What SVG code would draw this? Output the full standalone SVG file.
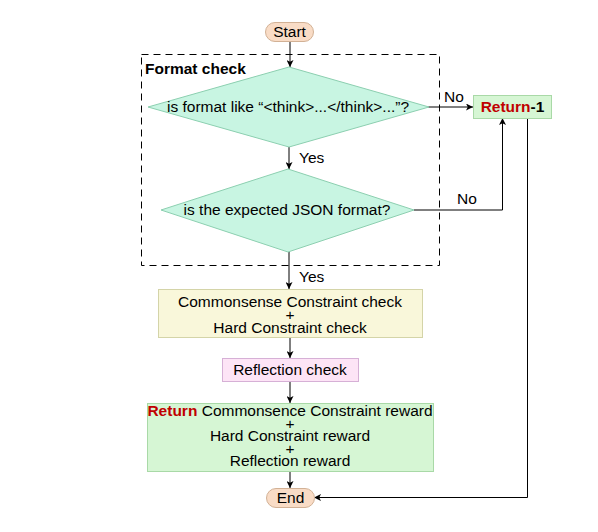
<svg xmlns="http://www.w3.org/2000/svg" width="598" height="532" viewBox="0 0 598 532">
<defs>
<marker id="arr" viewBox="0 0 10 10" refX="10" refY="5" markerWidth="7" markerHeight="7" orient="auto" markerUnits="userSpaceOnUse">
<path d="M0,0 L10,5 L0,10 L2.5,5 z" fill="#000"/>
</marker>
<style>
text{font-family:"Liberation Sans",Arial,sans-serif;font-size:15.5px;fill:#000}
.c{text-anchor:middle}
.red{fill:#c00000}
.b{font-weight:bold}
.pill{fill:#f9dcc6;stroke:#d2b195;stroke-width:1}
.dia{fill:#c8f5e2;stroke:#8ccfb0;stroke-width:1}
.line{fill:none;stroke:#000;stroke-width:1}
</style>
</defs>
<rect width="598" height="532" fill="#fff"/>
<g id="format-check">
<rect x="141.5" y="54.5" width="298" height="211" fill="none" stroke="#000" stroke-width="1" stroke-dasharray="7,5"/>
<text class="b" x="145" y="74">Format check</text>
</g>
<g id="connectors">
<line class="line" x1="290" y1="41" x2="290" y2="67" marker-end="url(#arr)"/>
<line class="line" x1="289" y1="147" x2="289" y2="169" marker-end="url(#arr)"/>
<text x="299" y="163">Yes</text>
<line class="line" x1="289" y1="252" x2="289" y2="289" marker-end="url(#arr)"/>
<text x="299" y="282">Yes</text>
<line class="line" x1="290" y1="337" x2="290" y2="358" marker-end="url(#arr)"/>
<line class="line" x1="290" y1="381" x2="290" y2="403" marker-end="url(#arr)"/>
<line class="line" x1="290" y1="471" x2="290" y2="488" marker-end="url(#arr)"/>
<line class="line" x1="428" y1="107" x2="473" y2="107" marker-end="url(#arr)"/>
<text x="444" y="102">No</text>
<polyline class="line" points="414,210 502.5,210 502.5,118" marker-end="url(#arr)"/>
<text x="457" y="204">No</text>
<polyline class="line" points="527.5,118 527.5,497.5 314,497.5" marker-end="url(#arr)"/>
</g>
<g id="start">
<rect class="pill" x="265.5" y="22.5" width="48" height="19" rx="9.5"/>
<text class="c" x="289.5" y="37">Start</text>
</g>
<g id="diamond-think">
<polygon class="dia" points="289,67 429,107 289,147 148,107"/>
<text class="c" x="288" y="112">is format like “&lt;think&gt;...&lt;/think&gt;...”?</text>
</g>
<g id="diamond-json">
<polygon class="dia" points="288,169 414,210 288,252 161,210"/>
<text class="c" x="287" y="215">is the expected JSON format?</text>
</g>
<g id="return-neg">
<rect x="473.5" y="95.5" width="78" height="23" fill="#d6f6d4" stroke="#a9d9a7"/>
<text class="c b" x="512.5" y="112"><tspan class="red">Return</tspan>-1</text>
</g>
<g id="constraint-check">
<rect x="158.5" y="289.5" width="264" height="48" fill="#f9f7da" stroke="#d4d4a8"/>
<text class="c" x="290" y="307">Commonsense Constraint check<tspan x="290" dy="13">+</tspan><tspan x="290" dy="13">Hard Constraint check</tspan></text>
</g>
<g id="reflection-check">
<rect x="222.5" y="358.5" width="136" height="23" fill="#fde4f6" stroke="#d6b0d6"/>
<text class="c" x="290" y="375">Reflection check</text>
</g>
<g id="return-reward">
<rect x="147.5" y="403.5" width="286" height="68" fill="#d6f6d4" stroke="#a9d9a7"/>
<text class="c" x="290" y="416"><tspan class="red b">Return</tspan> Commonsence Constraint reward<tspan x="290" dy="12.5">+</tspan><tspan x="290" dy="12.5">Hard Constraint reward</tspan><tspan x="290" dy="12.5">+</tspan><tspan x="290" dy="12.5">Reflection reward</tspan></text>
</g>
<g id="end">
<rect class="pill" x="266.5" y="488.5" width="48" height="19" rx="9.5"/>
<text class="c" x="290.5" y="503">End</text>
</g>
</svg>
